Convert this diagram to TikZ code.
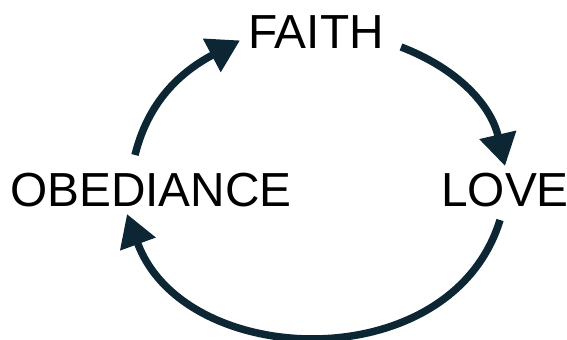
\documentclass[tikz,border=0pt]{standalone}
\usepackage{fontspec}
\setmainfont{Liberation Sans}
\usepackage{tikz}
\usetikzlibrary{arrows.meta,calc}
\definecolor{cyNavy}{RGB}{ 12, 38, 52}

\begin{document}
\begin{tikzpicture}[
  >={Triangle[length=8mm,width=9mm]},
  word/.style={font=\fontsize{34}{40}\selectfont,inner sep=0pt},
  cyc/.style ={->,line width=5.3pt,cyNavy}
]
\useasboundingbox (0,0) rectangle (14.175,8.5);
% the three words
\node[word] (faith) at (7.9,7.69)   {FAITH};
\node[word] (love)  at (12.625,3.75) {LOVE};
\node[word] (obed)  at (3.775,3.75) {OBEDIANCE};

% cycle arrows
\draw[cyc] ([shift={(-0.4,0.875)}]obed.center)
   to[out=76,in=208] ([shift={(-1.9,-0.2)}]faith.center);
\draw[cyc] ([shift={(2.125,-0.365)}]faith.center)
   to[out=-21,in=103] ([shift={(0,0.6)}]love.center);
\draw[cyc] ([shift={(-0.125,-0.75)}]love.center)
   to[out=-107,in=-70,looseness=1.14] ([shift={(-0.6,-0.6)}]obed.center);
\end{tikzpicture}
\end{document}
